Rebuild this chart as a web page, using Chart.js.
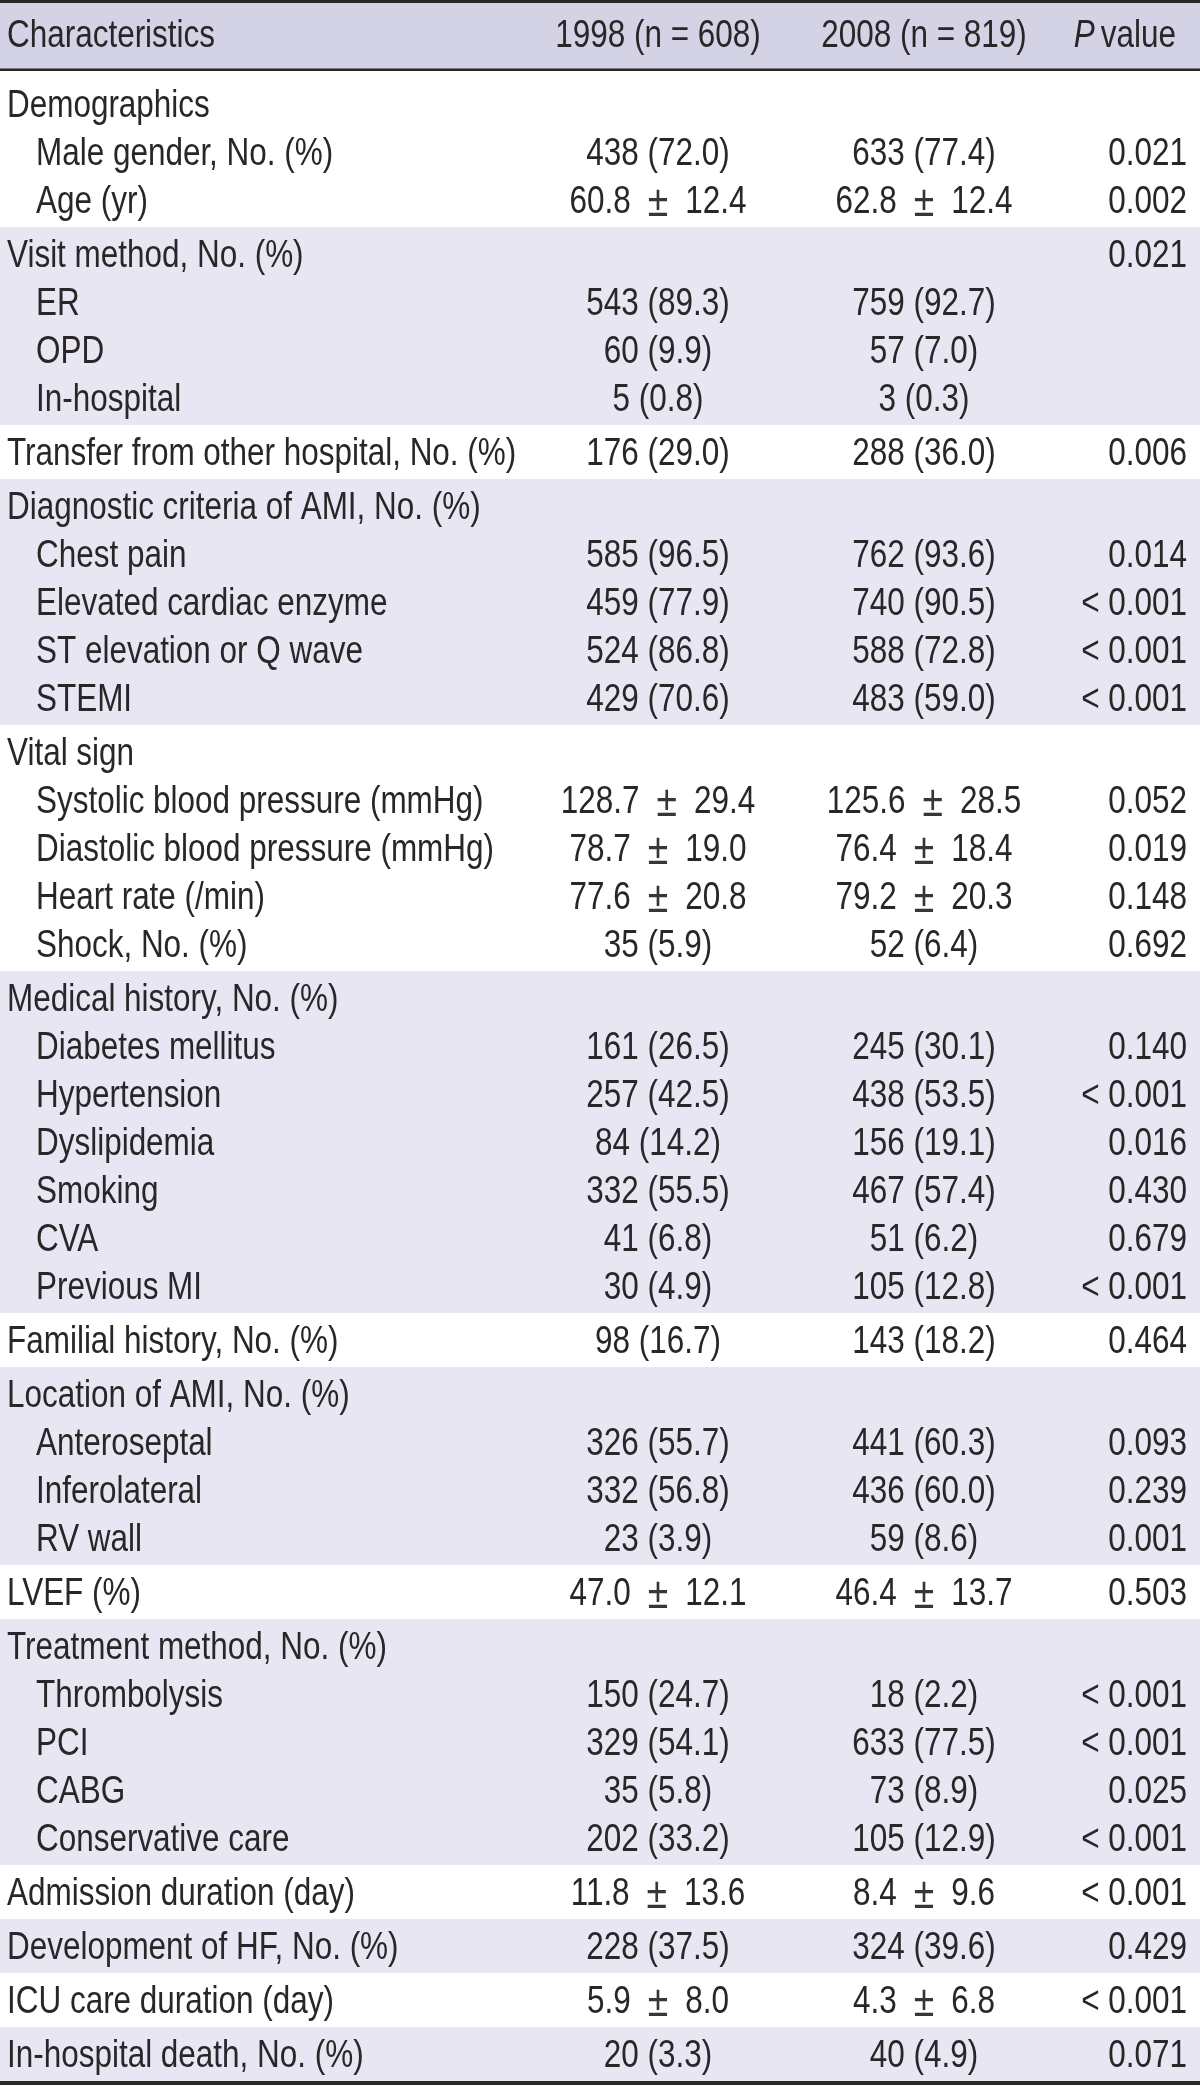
<!DOCTYPE html>
<html><head><meta charset="utf-8">
<script src="https://cdn.jsdelivr.net/npm/chart.js@4.4.0/dist/chart.umd.min.js"></script>
<style>html,body{margin:0;padding:0;background:#fff;}#wrap{width:1200px;height:2088px;position:relative;}</style>
</head><body><div id="wrap"><canvas id="c"></canvas></div>
<script>
// ---------- DATA ----------
const headers = ['Characteristics', '1998 (n = 608)', '2008 (n = 819)', 'P value'];
const groupSizes = [3, 4, 1, 5, 5, 7, 1, 4, 1, 5, 1, 1, 1, 1];
const rowLabels = [
  'Demographics', 'Male gender, No. (%)', 'Age (yr)',
  'Visit method, No. (%)', 'ER', 'OPD', 'In-hospital',
  'Transfer from other hospital, No. (%)',
  'Diagnostic criteria of AMI, No. (%)', 'Chest pain', 'Elevated cardiac enzyme', 'ST elevation or Q wave', 'STEMI',
  'Vital sign', 'Systolic blood pressure (mmHg)', 'Diastolic blood pressure (mmHg)', 'Heart rate (/min)', 'Shock, No. (%)',
  'Medical history, No. (%)', 'Diabetes mellitus', 'Hypertension', 'Dyslipidemia', 'Smoking', 'CVA', 'Previous MI',
  'Familial history, No. (%)',
  'Location of AMI, No. (%)', 'Anteroseptal', 'Inferolateral', 'RV wall',
  'LVEF (%)',
  'Treatment method, No. (%)', 'Thrombolysis', 'PCI', 'CABG', 'Conservative care',
  'Admission duration (day)',
  'Development of HF, No. (%)',
  'ICU care duration (day)',
  'In-hospital death, No. (%)'
];
const values1998 = [
  '', '438 (72.0)', '60.8 ± 12.4',
  '', '543 (89.3)', '60 (9.9)', '5 (0.8)',
  '176 (29.0)',
  '', '585 (96.5)', '459 (77.9)', '524 (86.8)', '429 (70.6)',
  '', '128.7 ± 29.4', '78.7 ± 19.0', '77.6 ± 20.8', '35 (5.9)',
  '', '161 (26.5)', '257 (42.5)', '84 (14.2)', '332 (55.5)', '41 (6.8)', '30 (4.9)',
  '98 (16.7)',
  '', '326 (55.7)', '332 (56.8)', '23 (3.9)',
  '47.0 ± 12.1',
  '', '150 (24.7)', '329 (54.1)', '35 (5.8)', '202 (33.2)',
  '11.8 ± 13.6',
  '228 (37.5)',
  '5.9 ± 8.0',
  '20 (3.3)'
];
const values2008 = [
  '', '633 (77.4)', '62.8 ± 12.4',
  '', '759 (92.7)', '57 (7.0)', '3 (0.3)',
  '288 (36.0)',
  '', '762 (93.6)', '740 (90.5)', '588 (72.8)', '483 (59.0)',
  '', '125.6 ± 28.5', '76.4 ± 18.4', '79.2 ± 20.3', '52 (6.4)',
  '', '245 (30.1)', '438 (53.5)', '156 (19.1)', '467 (57.4)', '51 (6.2)', '105 (12.8)',
  '143 (18.2)',
  '', '441 (60.3)', '436 (60.0)', '59 (8.6)',
  '46.4 ± 13.7',
  '', '18 (2.2)', '633 (77.5)', '73 (8.9)', '105 (12.9)',
  '8.4 ± 9.6',
  '324 (39.6)',
  '4.3 ± 6.8',
  '40 (4.9)'
];
const pValues = [
  '', '0.021', '0.002',
  '0.021', '', '', '',
  '0.006',
  '', '0.014', '< 0.001', '< 0.001', '< 0.001',
  '', '0.052', '0.019', '0.148', '0.692',
  '', '0.140', '< 0.001', '0.016', '0.430', '0.679', '< 0.001',
  '0.464',
  '', '0.093', '0.239', '0.001',
  '0.503',
  '', '< 0.001', '< 0.001', '0.025', '< 0.001',
  '< 0.001',
  '0.429',
  '< 0.001',
  '0.071'
];

// ---------- LAYOUT (row units) ----------
const PX_PER_UNIT = 48;
const Y_MAX = 2088 / PX_PER_UNIT;
const HEADER_END = 71 / PX_PER_UNIT;
const PAD = 3 / PX_PER_UNIT;
const FIRST_EXTRA = 6 / PX_PER_UNIT;
const TEXT_SHIFT = 3 / PX_PER_UNIT;

const bands = [];
const rowCenters = [];
const rowIndent = [];
(function build() {
  let y = HEADER_END;
  groupSizes.forEach((n, g) => {
    const start = y;
    y += PAD + (g === 0 ? FIRST_EXTRA : 0);
    for (let k = 0; k < n; k++) {
      rowCenters.push(y + 0.5);
      rowIndent.push(n > 1 && k > 0);
      y += 1;
    }
    y += PAD;
    bands.push({ start, end: y, shaded: g % 2 === 1 });
  });
})();

const COL_X = { label: 7, indent: 36, c1: 658, c2: 924, p: 1187, pHead: 1176 };
const COLORS = { header: '#d4d3e6', shade: '#e7e6f2', text: '#2a2627', rule: '#2a2728' };

function pickFont() {
  const c = document.createElement('canvas').getContext('2d');
  c.font = '40px monospace';
  const a = c.measureText('Characteristics abc').width;
  c.font = '40px "Liberation Sans Narrow", monospace';
  const b = c.measureText('Characteristics abc').width;
  return Math.abs(a - b) > 0.5 ? '"Liberation Sans Narrow"' : '"Liberation Sans"';
}
const FONT_FAMILY = pickFont();
const FONT_SIZE = 38;
const PM_SIZE = 45;
const PM_GAP = 17;

const tablePlugin = {
  id: 'tableDraw',
  beforeDatasetsDraw(chart) {
    const { ctx, scales: { x, y } } = chart;
    const L = x.getPixelForValue(0), R = x.getPixelForValue(1200);
    ctx.save();
    ctx.fillStyle = COLORS.header;
    ctx.fillRect(L, y.getPixelForValue(0), R - L, y.getPixelForValue(HEADER_END) - y.getPixelForValue(0));
    bands.forEach(b => {
      if (!b.shaded) return;
      const t = y.getPixelForValue(b.start), bt = y.getPixelForValue(b.end);
      ctx.fillStyle = COLORS.shade;
      ctx.fillRect(L, t, R - L, bt - t);
    });
    ctx.fillStyle = COLORS.rule;
    ctx.fillRect(L, y.getPixelForValue(0), R - L, 3);
    ctx.fillRect(L, y.getPixelForValue(HEADER_END) - 2.5, R - L, 2.5);
    const lastEnd = bands[bands.length - 1].end;
    ctx.fillRect(L, y.getPixelForValue(lastEnd), R - L, 4);

    ctx.font = FONT_SIZE + 'px ' + FONT_FAMILY;
    const sx = 208 / ctx.measureText('Characteristics').width;
    ctx.textBaseline = 'middle';
    const fontOf = (p, italic) => (italic ? 'italic ' : '') + (p.size || FONT_SIZE) + 'px ' + FONT_FAMILY;
    const width = (p, italic) => {
      ctx.font = fontOf(p, italic);
      return ctx.measureText(p.t).width * sx;
    };
    const put = (p, px, py, italic) => {
      ctx.save();
      ctx.font = fontOf(p, italic);
      ctx.fillStyle = p.color || COLORS.text;
      ctx.translate(px, py + (p.dy || 0));
      ctx.scale(sx, 1);
      ctx.textAlign = 'left';
      ctx.fillText(p.t, 0, 0);
      ctx.restore();
    };
    const draw = (s, xv, yv, align, italic) => {
      if (!s) return;
      const segs = s.includes(' ± ') ? s.split(' ± ') : [s];
      const pieces = [];
      segs.forEach((seg, i) => {
        if (i > 0) pieces.push({ t: '±', gap: PM_GAP, size: PM_SIZE, dy: 1, color: '#3a3637' });
        pieces.push({ t: seg, gap: 0 });
      });
      let total = 0;
      pieces.forEach(p => { p.w = width(p, italic) + 2 * p.gap; total += p.w; });
      const px = x.getPixelForValue(xv), py = y.getPixelForValue(yv);
      let sxp = align === 'left' ? px : align === 'center' ? px - total / 2 : px - total;
      pieces.forEach(p => { put(p, sxp + p.gap, py, italic); sxp += p.w; });
    };
    const hy = HEADER_END / 2 + 1 / PX_PER_UNIT;
    draw(headers[0], COL_X.label, hy, 'left');
    draw(headers[1], COL_X.c1, hy, 'center');
    draw(headers[2], COL_X.c2, hy, 'center');
    const parts = headers[3].split(' ');
    const wVal = width({ t: parts[1] });
    draw(parts[1], COL_X.pHead, hy, 'right');
    draw(parts[0], COL_X.pHead - wVal - 6, hy, 'right', true);

    rowLabels.forEach((lab, i) => {
      const cy = rowCenters[i] + TEXT_SHIFT;
      draw(lab, rowIndent[i] ? COL_X.indent : COL_X.label, cy, 'left');
      draw(values1998[i], COL_X.c1, cy, 'center');
      draw(values2008[i], COL_X.c2, cy, 'center');
      draw(pValues[i], COL_X.p, cy, 'right');
    });
    ctx.restore();
  }
};

new Chart(document.getElementById('c'), {
  type: 'scatter',
  data: { datasets: [] },
  options: {
    responsive: true,
    maintainAspectRatio: false,
    animation: false,
    layout: { padding: 0 },
    plugins: { legend: { display: false }, tooltip: { enabled: false } },
    scales: {
      x: { type: 'linear', min: 0, max: 1200, display: false },
      y: { type: 'linear', min: 0, max: Y_MAX, reverse: true, display: false }
    }
  },
  plugins: [tablePlugin]
});
</script>
</body></html>
